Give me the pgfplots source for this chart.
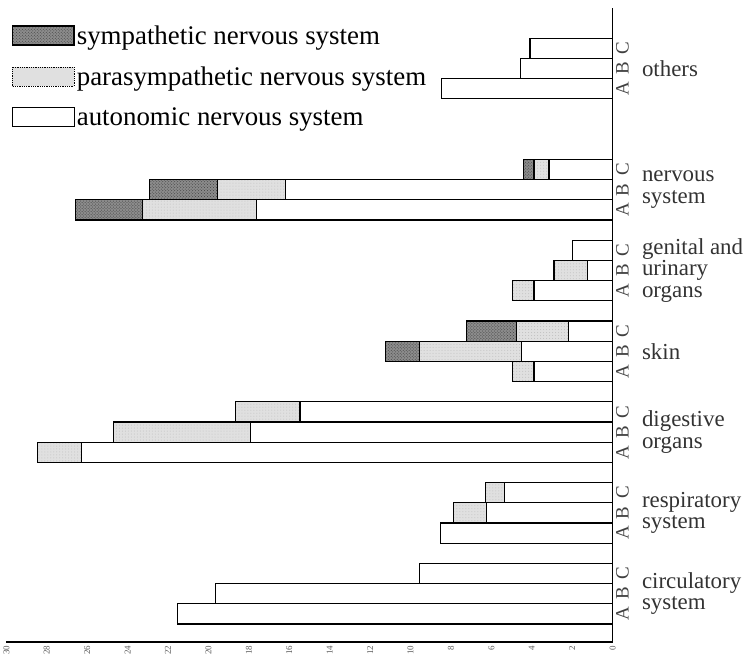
\documentclass[border=0pt]{standalone}
\usepackage{fontspec}
\setmainfont{Liberation Serif}
\usepackage{pgfplots}
\usepackage{pgfplotstable}
\pgfplotsset{compat=1.18}
\usetikzlibrary{patterns}

\pgfplotstableread{
y auto para symp
1 -21.53 0 0
2 -19.66 0 0
3 -9.56 0 0
5 -8.52 0 0
6 -6.26 -1.63 0
7 -5.37 -0.94 0
9 -26.30 -2.17 0
10 -17.93 -6.75 0
11 -15.47 -3.20 0
13 -3.89 -1.08 0
14 -4.53 -5.02 -1.67
15 -2.17 -2.60 -2.46
17 -3.89 -1.08 0
18 -1.23 -1.67 0
19 -1.97 0 0
21 -17.60 -5.67 -3.30
22 -16.20 -3.35 -3.35
23 -3.15 -0.74 -0.54
27 -8.47 0 0
28 -4.58 0 0
29 -4.09 0 0
}\datatab

\tikzset{catlab/.style={anchor=west, align=left, text=black!80, font=\fontsize{23}{21.5}\selectfont, xshift=26pt}}

\begin{document}
\begin{tikzpicture}
\begin{axis}[
  scale only axis,
  width=609pt, height=637pt,
  xbar stacked,
  bar width=1,
  xmin=-30, xmax=0,
  ymin=-0.4, ymax=31,
  axis x line*=bottom,
  axis y line*=right,
  axis line style={line width=1.6pt},
  xtick={-30,-28,...,0},
  xticklabels={30,28,26,24,22,20,18,16,14,12,10,8,6,4,2,0},
  xticklabel style={rotate=90, anchor=east, font=\fontsize{9}{9}\selectfont, text=black!65},
  ytick={1,2,3,5,6,7,9,10,11,13,14,15,17,18,19,21,22,23,27,28,29},
  yticklabels={A,B,C,A,B,C,A,B,C,A,B,C,A,B,C,A,B,C,A,B,C},
  yticklabel style={rotate=90, anchor=north, font=\fontsize{19}{19}\selectfont, text=black!75},
  major tick length=0pt,
  clip=false,
  legend style={at={(0,1)}, anchor=north west, xshift=5pt, yshift=-16pt,
    draw=none, fill=none, font=\fontsize{27}{27}\selectfont, row sep=17pt,
    cells={anchor=west}, inner sep=0pt},
]
\addplot[draw=black, line width=1.1pt, fill=white, forget plot] table[x=auto, y=y] {\datatab};
\addplot[draw=black, line width=1.1pt, fill=black!12, postaction={pattern=dots, pattern color=black!25}, forget plot] table[x=para, y=y] {\datatab};
\addplot[draw=black, line width=1.1pt, fill=black!45, postaction={pattern=crosshatch dots, pattern color=black!75}, forget plot] table[x=symp, y=y] {\datatab};

\addlegendimage{legend image code/.code={\draw[draw=black, line width=1.6pt, fill=black!45, postaction={pattern=crosshatch dots, pattern color=black!75}] (0pt,-9pt) rectangle (62pt,10pt);}}
\addlegendentry{sympathetic nervous system}
\addlegendimage{legend image code/.code={\draw[draw=black, line width=0.8pt, densely dotted, fill=black!12] (0pt,-9pt) rectangle (62pt,10pt);}}
\addlegendentry{parasympathetic nervous system}
\addlegendimage{legend image code/.code={\draw[draw=black, line width=0.8pt, fill=white] (0pt,-9pt) rectangle (62pt,10pt);}}
\addlegendentry{autonomic nervous system}

\node[catlab] at (axis cs:0,28) {others};
\node[catlab] at (axis cs:0,22) {nervous\\system};
\node[catlab] at (axis cs:0,18) {genital and\\urinary\\organs};
\node[catlab] at (axis cs:0,14) {skin};
\node[catlab] at (axis cs:0,10) {digestive\\organs};
\node[catlab] at (axis cs:0,6) {respiratory\\system};
\node[catlab] at (axis cs:0,2) {circulatory\\system};
\path (rel axis cs:0,0) ++(-3pt,-22pt);
\path (rel axis cs:1,1) ++(142pt,8pt);
\end{axis}
\end{tikzpicture}
\end{document}
